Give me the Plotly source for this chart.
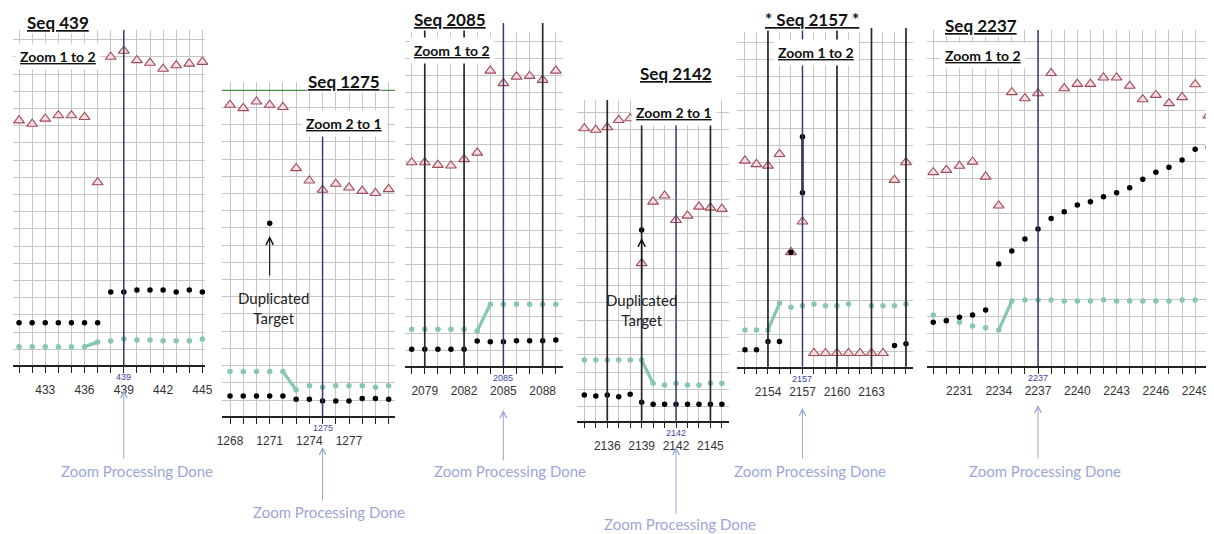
import plotly.graph_objects as go

# The page body keeps its default 8px margin, so the figure is made 8px smaller
# and every reference pixel position is measured from that offset.
OFF = 8
W, H = 1214 - OFF, 534 - OFF

# ---------------- data (values in grid units) ----------------
# Panel 1 : Seq 439, Zoom 1 to 2
P1_seq = [431, 432, 433, 434, 435, 436, 437, 438, 439, 440, 441, 442, 443, 444, 445]
P1_tri = [13.3, 13.1, 13.4, 13.6, 13.6, 13.5, 9.7, 17.0, 17.35, 16.8, 16.65, 16.3, 16.5, 16.6, 16.7]
P1_blk = [1.55, 1.55, 1.55, 1.55, 1.55, 1.55, 1.55, 3.33, 3.33, 3.45, 3.45, 3.45, 3.33, 3.45, 3.33]
P1_grn = [0.15, 0.15, 0.15, 0.15, 0.15, 0.15, 0.42, 0.48, 0.6, 0.54, 0.54, 0.5, 0.5, 0.5, 0.6]
P1_step = [436, 437]
P1_labels = [433, 436, 439, 442, 445]
P1_focus = 439
P1_events = []

# Panel 2 : Seq 1275, Zoom 2 to 1
P2_seq = [1268, 1269, 1270, 1271, 1272, 1273, 1274, 1275, 1276, 1277, 1278, 1279, 1280]
P2_tri = [17.15, 16.96, 17.34, 17.15, 17.02, 13.47, 12.75, 12.21, 12.56, 12.34, 12.15, 12.02, 12.25]
P2_blk = [0.23, 0.23, 0.23, 0.23, 0.23, 0.04, 0.04, -0.06, -0.06, -0.06, 0.08, 0.08, 0.04]
P2_grn = [1.65, 1.65, 1.65, 1.65, 1.65, 0.58, 0.83, 0.74, 0.83, 0.83, 0.83, 0.74, 0.83]
P2_step = [1272, 1273]
P2_labels = [1268, 1271, 1274, 1277]
P2_focus = 1275
P2_events = []
P2_dup_x = [1271]
P2_dup_y = [10.27]
P2_topline = 18

# Panel 3 : Seq 2085, Zoom 1 to 2
P3_seq = [2078, 2079, 2080, 2081, 2082, 2083, 2084, 2085, 2086, 2087, 2088, 2089]
P3_tri = [10.95, 10.95, 10.8, 10.76, 11.13, 11.51, 16.28, 15.55, 15.93, 15.97, 15.74, 16.28]
P3_blk = [0.08, 0.08, 0.08, 0.08, 0.08, 0.56, 0.52, 0.52, 0.58, 0.58, 0.58, 0.62]
P3_grn = [1.24, 1.24, 1.24, 1.24, 1.24, 1.15, 2.7, 2.7, 2.7, 2.7, 2.7, 2.7]
P3_step = [2083, 2084]
P3_labels = [2079, 2082, 2085, 2088]
P3_focus = 2085
P3_events = [2079, 2082, 2088]

# Panel 4 : Seq 2142, Zoom 2 to 1
P4_seq = [2134, 2135, 2136, 2137, 2138, 2139, 2140, 2141, 2142, 2143, 2144, 2145, 2146]
P4_tri = [16.09, 16.0, 16.15, 16.57, 16.67, 8.29, 11.85, 12.2, 10.79, 11.04, 11.56, 11.5, 11.43]
P4_blk = [0.68, 0.62, 0.68, 0.58, 0.72, 0.25, 0.14, 0.14, 0.14, 0.14, 0.14, 0.14, 0.14]
P4_grn = [2.7, 2.7, 2.7, 2.7, 2.7, 2.7, 1.35, 1.25, 1.35, 1.25, 1.25, 1.35, 1.35]
P4_step = [2139, 2140]
P4_labels = [2136, 2139, 2142, 2145]
P4_focus = 2142
P4_events = [2136, 2139, 2145]
P4_dup_x = [2139]
P4_dup_y = [10.21]

# Panel 5 : * Seq 2157 *, Zoom 1 to 2
P5_seq = [2152, 2153, 2154, 2155, 2156, 2157, 2158, 2159, 2160, 2161, 2162, 2163, 2164, 2165, 2166]
P5_tri = [11.1, 10.9, 10.81, 11.49, 5.78, 7.56, -0.09, -0.09, -0.09, -0.09, -0.09, -0.09, -0.09, 9.98, 11.01]
P5_blk = [0.1, 0.1, 0.58, 0.58, 5.78, None, None, None, None, None, None, None, None, 0.35, 0.45]
P5_grn = [1.26, 1.26, 1.26, 2.81, 2.58, 2.66, 2.77, 2.66, 2.66, 2.77, None, 2.66, 2.66, 2.66, 2.77]
P5_step = [2154, 2155]
P5_labels = [2154, 2157, 2160, 2163]
P5_focus = 2157
P5_events = [2154, 2160, 2163, 2166]
P5_pair_x = [2157, 2157]
P5_pair_y = [12.5, 9.24]

# Panel 6 : Seq 2237, Zoom 1 to 2
P6_seq = [2229, 2230, 2231, 2232, 2233, 2234, 2235, 2236, 2237, 2238, 2239,
          2240, 2241, 2242, 2243, 2244, 2245, 2246, 2247, 2248, 2249, 2250]
P6_tri = [10.39, 10.52, 10.76, 11.0, 10.13, 8.45, 15.04, 14.69, 14.98, 16.15, 15.27,
          15.52, 15.52, 15.89, 15.89, 15.41, 14.63, 14.88, 14.4, 14.75, 15.5, 13.68]
P6_blk = [1.67, 1.76, 1.96, 2.09, 2.38, 5.06, 5.81, 6.51, 7.09, 7.71, 8.1,
          8.49, 8.68, 8.97, 9.2, 9.49, 9.98, 10.39, 10.68, 11.1, 11.73, 11.84]
P6_grn = [2.09, 1.8, 1.67, 1.45, 1.36, 1.22, 2.91, 2.97, 2.97, 2.97, 2.91,
          2.91, 2.91, 2.97, 2.91, 2.91, 2.91, 2.91, 2.91, 2.97, 2.97, 2.97]
P6_step = [2234, 2235]
P6_labels = [2231, 2234, 2237, 2240, 2243, 2246, 2249]
P6_focus = 2237
P6_events = []

TITLES = ["Seq 439", "Seq 1275", "Seq 2085", "Seq 2142", "* Seq 2157 *", "Seq 2237"]
ZOOMS = ["Zoom 1 to 2", "Zoom 2 to 1", "Zoom 1 to 2", "Zoom 2 to 1", "Zoom 1 to 2", "Zoom 1 to 2"]

# ---------------- layout geometry (page pixels) ----------------
GEOM = [
    dict(x=(12.5, 205), y=(30, 365), xr=(430.5, 445.2), yr=(-0.91, 18.56),
         navy_top=30, ev_top=30, title=(57.5, 22), zoom=(58.5, 57),
         arrow=(390, 460), done=(137, 471)),
    dict(x=(221.7, 395), y=(81.7, 416), xr=(1267.37, 1280.48), yr=(-0.93, 18.5),
         navy_top=130, ev_top=130, title=(343.5, 82), zoom=(343.5, 123),
         arrow=(447, 502), done=(329, 512)),
    dict(x=(405, 563), y=(32, 366), xr=(2077.49, 2089.55), yr=(-0.89, 18.53),
         navy_top=23, ev_top=23, title=(450, 19), zoom=(451.5, 50),
         arrow=(410, 462), done=(510, 471)),
    dict(x=(577, 729), y=(100, 420.7), xr=(2133.36, 2146.62), yr=(-0.81, 17.73),
         navy_top=100, ev_top=100, title=(676, 73), zoom=(674, 112),
         arrow=(447, 515), done=(680, 524)),
    dict(x=(736.7, 913), y=(32, 366.7), xr=(2151.28, 2166.61), yr=(-0.88, 18.59),
         navy_top=28, ev_top=28, title=(812, 19), zoom=(816, 52),
         arrow=(408, 460), done=(810, 471)),
    dict(x=(926.7, 1213.5), y=(30, 366), xr=(2228.5, 2250.4), yr=(-0.87, 18.66),
         navy_top=30, ev_top=30, title=(981, 25), zoom=(983, 55),
         arrow=(405, 460), done=(1045, 471)),
]

PANELS = [
    (P1_seq, P1_tri, P1_blk, P1_grn, P1_step, P1_labels, P1_focus, P1_events),
    (P2_seq, P2_tri, P2_blk, P2_grn, P2_step, P2_labels, P2_focus, P2_events),
    (P3_seq, P3_tri, P3_blk, P3_grn, P3_step, P3_labels, P3_focus, P3_events),
    (P4_seq, P4_tri, P4_blk, P4_grn, P4_step, P4_labels, P4_focus, P4_events),
    (P5_seq, P5_tri, P5_blk, P5_grn, P5_step, P5_labels, P5_focus, P5_events),
    (P6_seq, P6_tri, P6_blk, P6_grn, P6_step, P6_labels, P6_focus, P6_events),
]

GRID = "#c6c6c6"
GREEN = "#86c7ad"
TRI_FILL = "#f6dcdc"
TRI_LINE = "#a04a5a"
NAVY = "#3b3b6e"
DONE_C = "#9ca6d8"
TEXT_FONT = "Lato"
TICK_FONT = "Liberation Sans"


def pxx(p):
    return (p - OFF) / W


def pxy(p):
    return 1 - (p - OFF) / H


fig = go.Figure()
layout_axes = {}
shapes = []
annotations = []

for i, (seq, tri, blk, grn, step, labels, focus, events) in enumerate(PANELS):
    n = i + 1
    xa = "x" if n == 1 else f"x{n}"
    ya = "y" if n == 1 else f"y{n}"
    g = GEOM[i]

    # green step line
    gmap = dict(zip(seq, grn))
    fig.add_trace(go.Scatter(x=step, y=[gmap[s] for s in step], mode="lines",
                             line=dict(color=GREEN, width=3.2),
                             xaxis=xa, yaxis=ya, hoverinfo="skip"))
    fig.add_trace(go.Scatter(x=seq, y=grn, mode="markers",
                             marker=dict(color=GREEN, size=5.5),
                             xaxis=xa, yaxis=ya, cliponaxis=False))
    fig.add_trace(go.Scatter(x=seq, y=tri, mode="markers",
                             marker=dict(symbol="triangle-up", size=9.5, color=TRI_FILL,
                                         line=dict(color=TRI_LINE, width=1.1)),
                             xaxis=xa, yaxis=ya, cliponaxis=False))
    fig.add_trace(go.Scatter(x=seq, y=blk, mode="markers",
                             marker=dict(color="#000000", size=5.5),
                             xaxis=xa, yaxis=ya, cliponaxis=False))

    ticktext = [str(s) if s in labels else "" for s in seq]
    layout_axes["xaxis" if n == 1 else f"xaxis{n}"] = dict(
        domain=[pxx(g["x"][0]), min(1.0, pxx(g["x"][1]))], range=list(g["xr"]),
        anchor=ya, tickmode="array", tickvals=seq, ticktext=ticktext,
        ticks="outside", ticklen=6, tickwidth=1, tickcolor="#222",
        showline=True, linecolor="#222", linewidth=1.5, automargin=False,
        showgrid=True, gridcolor=GRID, gridwidth=1, zeroline=False,
        tickfont=dict(family=TICK_FONT, size=12, color="#333"),
        ticklabelstandoff=7, fixedrange=True)
    layout_axes["yaxis" if n == 1 else f"yaxis{n}"] = dict(
        domain=[pxy(g["y"][1]), pxy(g["y"][0])], range=list(g["yr"]),
        anchor=xa, tick0=0, dtick=1, showgrid=True, gridcolor=GRID, gridwidth=1,
        showticklabels=False, ticks="", zeroline=False, showline=False,
        automargin=False, fixedrange=True)

    # vertical focus (navy) line and event (black) lines
    shapes.append(dict(type="line", xref=xa, yref="paper", x0=focus, x1=focus,
                       y0=pxy(g["y"][1]), y1=pxy(g["navy_top"]),
                       line=dict(color=NAVY, width=1.5), layer="above"))
    for ev in events:
        shapes.append(dict(type="line", xref=xa, yref="paper", x0=ev, x1=ev,
                           y0=pxy(g["y"][1]), y1=pxy(g["ev_top"]),
                           line=dict(color="#2a2a2a", width=1.7), layer="above"))

    # small focus label above the tick labels
    annotations.append(dict(x=focus, xref=xa, y=pxy(g["y"][1] + 12), yref="paper",
                            xanchor="center", yanchor="middle",
                            text=str(focus), showarrow=False,
                            font=dict(family=TICK_FONT, size=9, color="#3c46a0")))
    # titles
    annotations.append(dict(x=pxx(g["title"][0]), y=pxy(g["title"][1]), xref="paper",
                            yref="paper", xanchor="center", yanchor="middle",
                            text=f"<b><u>{TITLES[i]}</u></b>", showarrow=False,
                            font=dict(family=TEXT_FONT, size=17, color="#111"),
                            bgcolor="white", borderpad=0))
    annotations.append(dict(x=pxx(g["zoom"][0]), y=pxy(g["zoom"][1]), xref="paper",
                            yref="paper", xanchor="center", yanchor="middle",
                            text=f"<b><u>{ZOOMS[i]}</u></b>", showarrow=False,
                            font=dict(family=TEXT_FONT, size=14, color="#111"),
                            bgcolor="white", borderpad=4))
    # Zoom Processing Done arrow + text
    annotations.append(dict(x=focus, xref=xa, y=pxy(g["arrow"][0]), yref="paper",
                            text="", showarrow=True, ax=0, ay=g["arrow"][1] - g["arrow"][0],
                            arrowhead=5, arrowsize=1.3, arrowwidth=1, arrowcolor=DONE_C))
    annotations.append(dict(x=pxx(g["done"][0]), y=pxy(g["done"][1]), xref="paper",
                            yref="paper", xanchor="center", yanchor="middle",
                            text="Zoom Processing Done", showarrow=False,
                            font=dict(family=TEXT_FONT, size=15, color=DONE_C)))

# duplicated targets
fig.add_trace(go.Scatter(x=P2_dup_x, y=P2_dup_y, mode="markers",
                         marker=dict(color="#000", size=5.5), xaxis="x2", yaxis="y2"))
fig.add_trace(go.Scatter(x=P4_dup_x, y=P4_dup_y, mode="markers",
                         marker=dict(color="#000", size=5.5), xaxis="x4", yaxis="y4"))
fig.add_trace(go.Scatter(x=P5_pair_x, y=P5_pair_y, mode="lines+markers",
                         line=dict(color="#222", width=2.5),
                         marker=dict(color="#000", size=5.5), xaxis="x5", yaxis="y5"))

# top green line in panel 2
shapes.append(dict(type="line", xref="x2 domain", yref="y2", x0=0, x1=1,
                   y0=P2_topline, y1=P2_topline,
                   line=dict(color="#4e8f4e", width=1.2), layer="above"))

# Duplicated Target annotations
for xa, dx, head, tail, tx, ty in [("x2", P2_dup_x[0], 236, 277, 273, 308),
                                   ("x4", P4_dup_x[0], 238, 281, 641, 310)]:
    annotations.append(dict(x=dx, xref=xa, y=pxy(head), yref="paper", text="",
                            showarrow=True, ax=0, ay=tail - head, arrowhead=5,
                            arrowsize=1.3, arrowwidth=1.1, arrowcolor="#111"))
    annotations.append(dict(x=pxx(tx), y=pxy(ty), xref="paper", yref="paper",
                            xanchor="center", yanchor="middle",
                            text="Duplicated<br>Target", showarrow=False,
                            font=dict(family=TEXT_FONT, size=15, color="#222")))

fig.update_layout(template="none", width=W, height=H, margin=dict(l=0, r=0, t=0, b=0, pad=0),
                  paper_bgcolor="white", plot_bgcolor="white", showlegend=False,
                  shapes=shapes, annotations=annotations, **layout_axes)

fig.write_html("out.html")
